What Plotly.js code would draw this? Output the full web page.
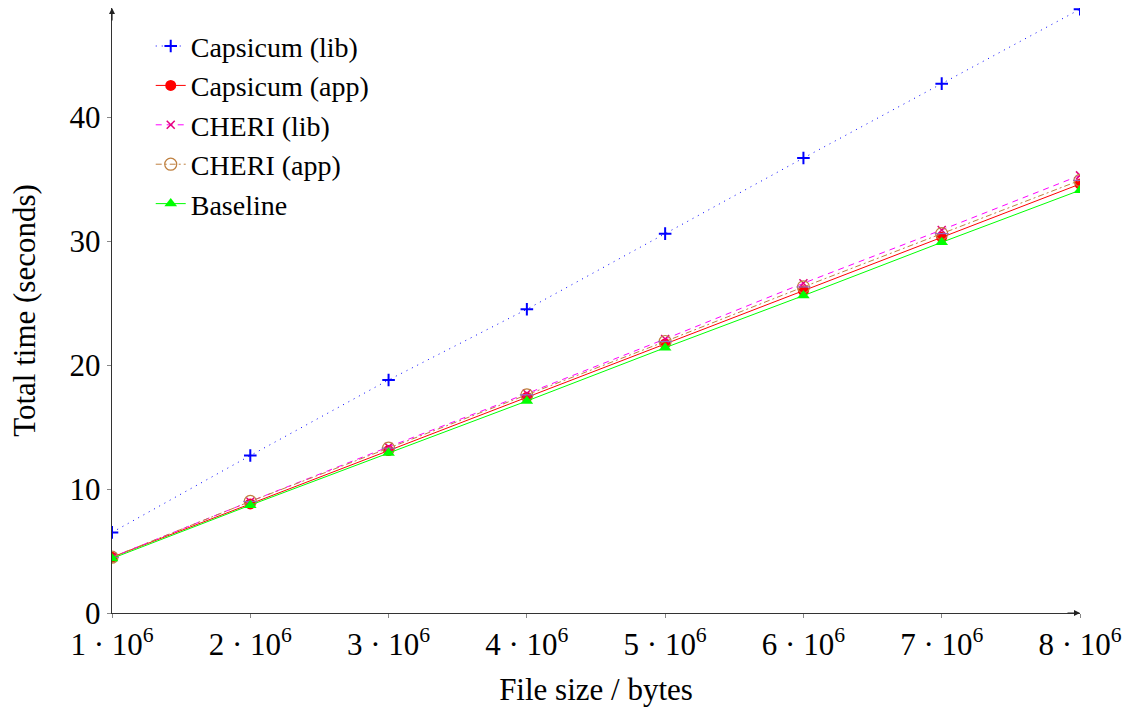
<!DOCTYPE html>
<html>
<head>
<meta charset="utf-8">
<script src="https://cdn.plot.ly/plotly-3.0.1.min.js"></script>
<style>html,body{margin:0;padding:0;background:#fff}#chart{width:1129px;height:713px}</style>
</head>
<body>
<div id="chart"></div>
<script>
// File sizes in bytes
const fileSizes = [1e6, 2e6, 3e6, 4e6, 5e6, 6e6, 7e6, 8e6];

// Total run time in seconds for each configuration
const capsicumLib = [6.5, 12.7, 18.8, 24.5, 30.6, 36.7, 42.7, 48.7];
const capsicumApp = [4.5, 8.8, 13.1, 17.4, 21.7, 26.0, 30.3, 34.6];
const cheriLib    = [4.5, 9.0, 13.4, 17.7, 22.1, 26.6, 30.9, 35.3];
const cheriApp    = [4.5, 9.0, 13.3, 17.6, 21.9, 26.3, 30.6, 34.9];
const baseline    = [4.4, 8.7, 12.9, 17.1, 21.4, 25.6, 29.9, 34.1];

const xTickVals = fileSizes;
const xTickText = ['1 · 10<sup>6</sup>', '2 · 10<sup>6</sup>', '3 · 10<sup>6</sup>', '4 · 10<sup>6</sup>',
                   '5 · 10<sup>6</sup>', '6 · 10<sup>6</sup>', '7 · 10<sup>6</sup>', '8 · 10<sup>6</sup>'];
const yTickVals = [0, 10, 20, 30, 40];

const serif = 'Liberation Serif, DejaVu Serif, serif';
const axisFontSize = 31;
const legendFontSize = 28;

const traces = [
  {
    x: fileSizes, y: capsicumLib, name: 'Capsicum (lib)', mode: 'lines+markers',
    line: {color: '#0000ff', width: 1, dash: '1px,5px'},
    marker: {symbol: 'cross-thin', size: 9, line: {color: '#0000ff', width: 2}, color: '#0000ff'}
  },
  {
    x: fileSizes, y: capsicumApp, name: 'Capsicum (app)', mode: 'lines+markers',
    line: {color: '#ff0000', width: 1},
    marker: {symbol: 'circle', size: 11, color: '#ff0000'}
  },
  {
    x: fileSizes, y: cheriLib, name: 'CHERI (lib)', mode: 'lines+markers',
    line: {color: '#ff00ff', width: 1, dash: '6px,5px'},
    marker: {symbol: 'x-thin', size: 8, line: {color: '#e6007e', width: 1.5}, color: '#e6007e'}
  },
  {
    x: fileSizes, y: cheriApp, name: 'CHERI (app)', mode: 'lines+markers', legendgroup: 'cheriApp',
    line: {color: '#bf8040', width: 1, dash: '6px,3px,2px,3px'},
    marker: {symbol: 'circle-open', size: 12, line: {color: '#bf8040', width: 1.2}, color: '#bf8040'}
  },
  {
    x: fileSizes, y: cheriApp, name: 'CHERI (app)', mode: 'markers', legendgroup: 'cheriApp', showlegend: false,
    marker: {symbol: 'line-ew-open', size: 10, line: {color: '#bf8040', width: 1.2}}
  },
  {
    x: fileSizes, y: baseline, name: 'Baseline', mode: 'lines+markers',
    line: {color: '#00ff00', width: 1},
    marker: {symbol: 'triangle-up', size: 11, color: '#00ff00'}
  }
];

const layout = {
  width: 1129, height: 713,
  margin: {l: 112, r: 49, t: 8, b: 100},
  paper_bgcolor: '#ffffff', plot_bgcolor: '#ffffff',
  font: {family: serif, size: axisFontSize, color: '#000'},
  showlegend: true,
  legend: {
    x: 0.04, y: 0.978, xanchor: 'left', yanchor: 'top',
    bgcolor: 'rgba(255,255,255,0)', font: {family: serif, size: legendFontSize, color: '#000'},
    tracegroupgap: 0
  },
  xaxis: {
    range: [1e6, 8e6], tickvals: xTickVals, ticktext: xTickText,
    showgrid: false, zeroline: false, showline: true, linecolor: '#333', linewidth: 1.2,
    ticks: 'outside', ticklen: 4, tickcolor: '#888', tickwidth: 1,
    tickfont: {family: serif, size: axisFontSize},
    title: {text: 'File size / bytes', font: {family: serif, size: axisFontSize}, standoff: 16}
  },
  yaxis: {
    range: [0, 48.8], tickvals: yTickVals,
    showgrid: false, zeroline: false, showline: true, linecolor: '#333', linewidth: 1.2,
    ticks: 'outside', ticklen: 4, tickcolor: '#888', tickwidth: 1,
    tickfont: {family: serif, size: axisFontSize},
    title: {text: 'Total time (seconds)', font: {family: serif, size: axisFontSize}, standoff: 24}
  },
  annotations: [
    {xref: 'paper', yref: 'paper', x: 1, y: 0, ax: -14, ay: 0, text: '',
     showarrow: true, arrowhead: 2, arrowsize: 1, arrowwidth: 1.2, arrowcolor: '#222'},
    {xref: 'paper', yref: 'paper', x: 0, y: 1, ax: 0, ay: 14, text: '',
     showarrow: true, arrowhead: 2, arrowsize: 1, arrowwidth: 1.2, arrowcolor: '#222'}
  ]
};

Plotly.newPlot('chart', traces, layout, {displayModeBar: false, staticPlot: true});
</script>
</body>
</html>
